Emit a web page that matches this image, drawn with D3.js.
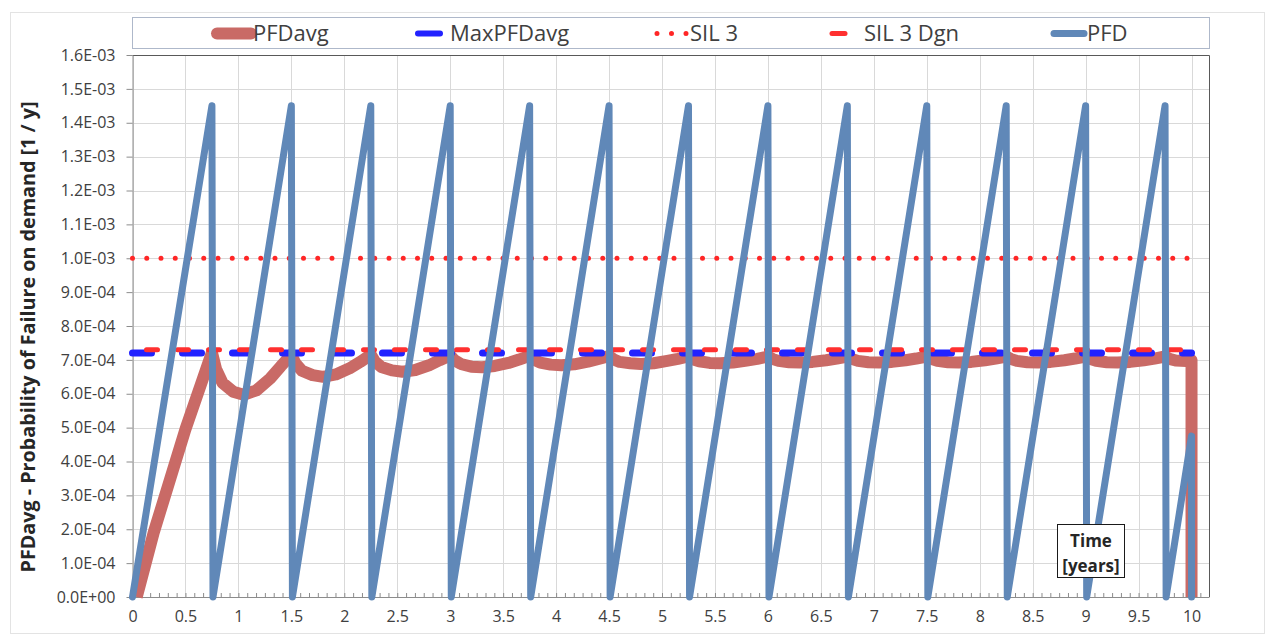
<!DOCTYPE html>
<html>
<head>
<meta charset="utf-8">
<script src="https://cdn.jsdelivr.net/npm/d3@7/dist/d3.min.js"></script>
<style>
  html, body { margin: 0; padding: 0; background: #ffffff; }
  svg { display: block; font-family: "Open Sans", "Noto Sans", sans-serif; }
</style>
</head>
<body>
<svg id="chart" width="1271" height="637"></svg>
<script>
// ---- data -------------------------------------------------------------
// PFD(t): sawtooth, proof test every 0.75 years [time (years), PFD]
const pfdPoints = [
  [0, 0], [0.75, 1.45e-3], [0.76, 0],
  [1.5, 1.45e-3], [1.51, 0],
  [2.25, 1.45e-3], [2.26, 0],
  [3.0, 1.45e-3], [3.01, 0],
  [3.75, 1.45e-3], [3.76, 0],
  [4.5, 1.45e-3], [4.51, 0],
  [5.25, 1.45e-3], [5.26, 0],
  [6.0, 1.45e-3], [6.01, 0],
  [6.75, 1.45e-3], [6.76, 0],
  [7.5, 1.45e-3], [7.51, 0],
  [8.25, 1.45e-3], [8.26, 0],
  [9.0, 1.45e-3], [9.01, 0],
  [9.75, 1.45e-3], [9.76, 0],
  [10.0, 4.75e-4], [10.0, 0]
];

// PFDavg(t) [time (years), PFDavg]
const pfdAvgPoints = [
  [0.04, 0], [0.2, 1.9e-4], [0.5, 4.95e-4], [0.75, 7.22e-4],
  [0.79, 6.72e-4], [0.85, 6.32e-4], [0.95, 6.06e-4], [1.05, 5.97e-4], [1.17, 6.10e-4], [1.30, 6.45e-4], [1.40, 6.81e-4],
  [1.50, 7.15e-4],
  [1.54, 6.89e-4], [1.60, 6.68e-4], [1.70, 6.55e-4], [1.80, 6.50e-4], [1.92, 6.57e-4], [2.05, 6.75e-4], [2.15, 6.94e-4],
  [2.25, 7.15e-4],
  [2.29, 6.95e-4], [2.35, 6.79e-4], [2.45, 6.69e-4], [2.55, 6.65e-4], [2.67, 6.70e-4], [2.80, 6.84e-4], [2.90, 6.99e-4],
  [3.00, 7.13e-4],
  [3.04, 6.99e-4], [3.10, 6.88e-4], [3.20, 6.80e-4], [3.30, 6.78e-4], [3.42, 6.82e-4], [3.55, 6.91e-4], [3.65, 7.01e-4],
  [3.75, 7.12e-4],
  [3.79, 7.01e-4], [3.85, 6.92e-4], [3.95, 6.86e-4], [4.05, 6.84e-4], [4.17, 6.87e-4], [4.30, 6.95e-4], [4.40, 7.03e-4],
  [4.50, 7.11e-4],
  [4.54, 7.02e-4], [4.60, 6.94e-4], [4.70, 6.90e-4], [4.80, 6.88e-4], [4.92, 6.90e-4], [5.05, 6.97e-4], [5.15, 7.03e-4],
  [5.25, 7.10e-4],
  [5.29, 7.02e-4], [5.35, 6.96e-4], [5.45, 6.91e-4], [5.55, 6.90e-4], [5.67, 6.92e-4], [5.80, 6.98e-4], [5.90, 7.03e-4],
  [6.00, 7.10e-4],
  [6.04, 7.03e-4], [6.10, 6.97e-4], [6.20, 6.93e-4], [6.30, 6.92e-4], [6.42, 6.94e-4], [6.55, 6.99e-4], [6.65, 7.04e-4],
  [6.75, 7.10e-4],
  [6.79, 7.03e-4], [6.85, 6.97e-4], [6.95, 6.93e-4], [7.05, 6.92e-4], [7.17, 6.94e-4], [7.30, 6.99e-4], [7.40, 7.04e-4],
  [7.50, 7.10e-4],
  [7.54, 7.03e-4], [7.60, 6.97e-4], [7.70, 6.93e-4], [7.80, 6.92e-4], [7.92, 6.94e-4], [8.05, 6.99e-4], [8.15, 7.04e-4],
  [8.25, 7.10e-4],
  [8.29, 7.03e-4], [8.35, 6.97e-4], [8.45, 6.93e-4], [8.55, 6.92e-4], [8.67, 6.94e-4], [8.80, 6.99e-4], [8.90, 7.04e-4],
  [9.00, 7.10e-4],
  [9.04, 7.03e-4], [9.10, 6.97e-4], [9.20, 6.93e-4], [9.30, 6.92e-4], [9.42, 6.94e-4], [9.55, 6.99e-4], [9.65, 7.04e-4],
  [9.75, 7.10e-4],
  [9.79, 7.03e-4], [9.85, 6.98e-4], [9.95, 6.97e-4], [10.0, 6.99e-4], [10.0, 0]
];

// Horizontal reference levels
const maxPfdAvg = 7.2e-4;
const sil3Limit = 1.0e-3;
const sil3Dgn = 7.3e-4;
const refSpan = [0, 10];

const legendLabels = ["PFDavg", "MaxPFDavg", "SIL 3", "SIL 3 Dgn", "PFD"];
const xTickValues = [0, 0.5, 1, 1.5, 2, 2.5, 3, 3.5, 4, 4.5, 5, 5.5, 6, 6.5, 7, 7.5, 8, 8.5, 9, 9.5, 10];
const xTickLabels = ["0", "0.5", "1", "1.5", "2", "2.5", "3", "3.5", "4", "4.5", "5", "5.5", "6", "6.5", "7", "7.5", "8", "8.5", "9", "9.5", "10"];
const yTickValues = [0, 1e-4, 2e-4, 3e-4, 4e-4, 5e-4, 6e-4, 7e-4, 8e-4, 9e-4, 1.0e-3, 1.1e-3, 1.2e-3, 1.3e-3, 1.4e-3, 1.5e-3, 1.6e-3];
const yTickLabels = ["0.0E+00", "1.0E-04", "2.0E-04", "3.0E-04", "4.0E-04", "5.0E-04", "6.0E-04", "7.0E-04", "8.0E-04", "9.0E-04",
  "1.0E-03", "1.1E-03", "1.2E-03", "1.3E-03", "1.4E-03", "1.5E-03", "1.6E-03"];
const yTitle = "PFDavg - Probability of Failure on demand [1 / y]";
const xTitle = ["Time", "[years]"];

// ---- styles ---------------------------------------------------------------
const C = {
  pfd: "#6088b8",
  avg: "#c96a66",
  max: "#2222ff",
  sil: "#ff2626",
  dgn: "#ff3030",
  grid: "#d9d9d9",
  axis: "#8c8c8c",
  frame: "#595959",
  text: "#404040"
};

// ---- layout ---------------------------------------------------------------
const svg = d3.select("#chart");
const plot = { left: 132.5, right: 1209, top: 55, bottom: 597 };

const x = d3.scaleLinear().domain([0, 10.165]).range([plot.left, plot.right]);
const y = d3.scaleLinear().domain([0, 1.6e-3]).range([plot.bottom, plot.top]);

// outer chart border
svg.append("rect")
  .attr("x", 10.5).attr("y", 12.5).attr("width", 1254).attr("height", 621)
  .attr("fill", "#ffffff").attr("stroke", "#e3e3e3");

// gridlines
const grid = svg.append("g");
grid.selectAll("line.h").data(yTickValues).join("line")
  .attr("x1", plot.left).attr("x2", plot.right)
  .attr("y1", d => Math.round(y(d)) + 0.5).attr("y2", d => Math.round(y(d)) + 0.5)
  .attr("stroke", C.grid);
grid.selectAll("line.v").data(xTickValues).join("line")
  .attr("y1", plot.top).attr("y2", plot.bottom)
  .attr("x1", d => Math.round(x(d)) + 0.5).attr("x2", d => Math.round(x(d)) + 0.5)
  .attr("stroke", C.grid);

// frame: top and right edges
svg.append("path")
  .attr("d", `M${plot.left},${plot.top + 0.5}H${plot.right + 0.5}V${plot.bottom}`)
  .attr("fill", "none").attr("stroke", C.frame);

// y axis
const yAxis = d3.axisLeft(y).tickValues(yTickValues)
  .tickFormat((d, i) => yTickLabels[i]).tickSizeInner(6).tickSizeOuter(0).tickPadding(11);
const gy = svg.append("g").attr("transform", `translate(${plot.left},0)`).call(yAxis);
gy.select(".domain").attr("stroke", C.axis);
gy.selectAll(".tick line").attr("stroke", C.axis);
gy.selectAll(".tick text").attr("fill", C.text).style("font-size", "16px")
  .style("font-family", "'Open Sans', sans-serif");

// x axis: monthly minor ticks pointing inside, labels every half year
const monthTicks = d3.range(0, 10.165, 1 / 12);
const xAxisMinor = d3.axisBottom(x).tickValues(monthTicks).tickFormat("").tickSizeInner(-4).tickSizeOuter(0);
const gxm = svg.append("g").attr("transform", `translate(0,${plot.bottom})`).call(xAxisMinor);
gxm.select(".domain").attr("stroke", C.axis);
gxm.selectAll(".tick line").attr("stroke", C.axis);

const xAxis = d3.axisBottom(x).tickValues(xTickValues)
  .tickFormat((d, i) => xTickLabels[i]).tickSize(0).tickPadding(14);
const gx = svg.append("g").attr("transform", `translate(0,${plot.bottom})`).call(xAxis);
gx.select(".domain").remove();
gx.selectAll(".tick text").attr("fill", C.text).style("font-size", "16px")
  .style("font-family", "'Open Sans', sans-serif");

// ---- series ---------------------------------------------------------------
const line = d3.line().x(d => x(d[0])).y(d => y(d[1]));

// PFDavg
svg.append("path").datum(pfdAvgPoints)
  .attr("d", line).attr("fill", "none")
  .attr("stroke", C.avg).attr("stroke-width", 12)
  .attr("stroke-linejoin", "round").attr("stroke-linecap", "butt");

// MaxPFDavg
svg.append("path").datum(refSpan.map(t => [t, maxPfdAvg]))
  .attr("d", line).attr("fill", "none")
  .attr("stroke", C.max).attr("stroke-width", 7)
  .attr("stroke-linecap", "round").attr("stroke-dasharray", "19 31");

// SIL 3 limit (dotted)
svg.append("path").datum(refSpan.map(t => [t, sil3Limit]))
  .attr("d", line).attr("fill", "none")
  .attr("stroke", C.sil).attr("stroke-width", 5)
  .attr("stroke-linecap", "round").attr("stroke-dasharray", "0 14.25");

// SIL 3 Dgn (dashed)
svg.append("path").datum(refSpan.map(t => [t, sil3Dgn]))
  .attr("d", line).attr("fill", "none")
  .attr("stroke", C.dgn).attr("stroke-width", 5)
  .attr("stroke-linecap", "round").attr("stroke-dasharray", "11 20")
  .attr("stroke-dashoffset", -14);

// PFD
svg.append("path").datum(pfdPoints)
  .attr("d", line).attr("fill", "none")
  .attr("stroke", C.pfd).attr("stroke-width", 7)
  .attr("stroke-linejoin", "round").attr("stroke-linecap", "round");

// ---- legend ---------------------------------------------------------------
const leg = svg.append("g");
leg.append("rect")
  .attr("x", 132.5).attr("y", 17.5).attr("width", 1077).attr("height", 31)
  .attr("fill", "#ffffff").attr("stroke", "#aeb8ca");

const legY = 33.5;
const legendItems = [
  { label: legendLabels[0], sym: [217, 251], textX: 253, stroke: C.avg, w: 12, cap: "round", dash: null },
  { label: legendLabels[1], sym: [418, 440], textX: 450, stroke: C.max, w: 6, cap: "round", dash: null },
  { label: legendLabels[2], sym: [657, 687], textX: 690, stroke: C.sil, w: 5, cap: "round", dash: "0 14.5" },
  { label: legendLabels[3], sym: [832, 845], textX: 864, stroke: C.dgn, w: 5, cap: "round", dash: null },
  { label: legendLabels[4], sym: [1054, 1084], textX: 1087, stroke: C.pfd, w: 7, cap: "round", dash: null }
];
legendItems.forEach(it => {
  leg.append("line")
    .attr("x1", it.sym[0]).attr("x2", it.sym[1]).attr("y1", legY).attr("y2", legY)
    .attr("stroke", it.stroke).attr("stroke-width", it.w).attr("stroke-linecap", it.cap)
    .attr("stroke-dasharray", it.dash);
  leg.append("text")
    .attr("x", it.textX).attr("y", legY).attr("dy", "0.35em")
    .attr("fill", C.text).style("font-size", "22px")
    .text(it.label);
});

// ---- axis titles ----------------------------------------------------------
svg.append("text")
  .attr("transform", "translate(28,337) rotate(-90)")
  .attr("text-anchor", "middle").attr("dy", "0.35em")
  .attr("fill", "#262626").style("font-size", "19px").style("font-weight", "bold")
  .attr("textLength", 471).attr("lengthAdjust", "spacingAndGlyphs")
  .text(yTitle);

const tBox = svg.append("g");
tBox.append("rect")
  .attr("x", 1057.5).attr("y", 524.5).attr("width", 67).attr("height", 53)
  .attr("fill", "#ffffff").attr("stroke", "#1a1a1a");
tBox.selectAll("text").data(xTitle).join("text")
  .attr("x", 1091).attr("y", (d, i) => 547 + i * 24.5)
  .attr("text-anchor", "middle")
  .attr("fill", "#262626").style("font-size", "17px").style("font-weight", "bold")
  .text(d => d);
</script>
</body>
</html>
